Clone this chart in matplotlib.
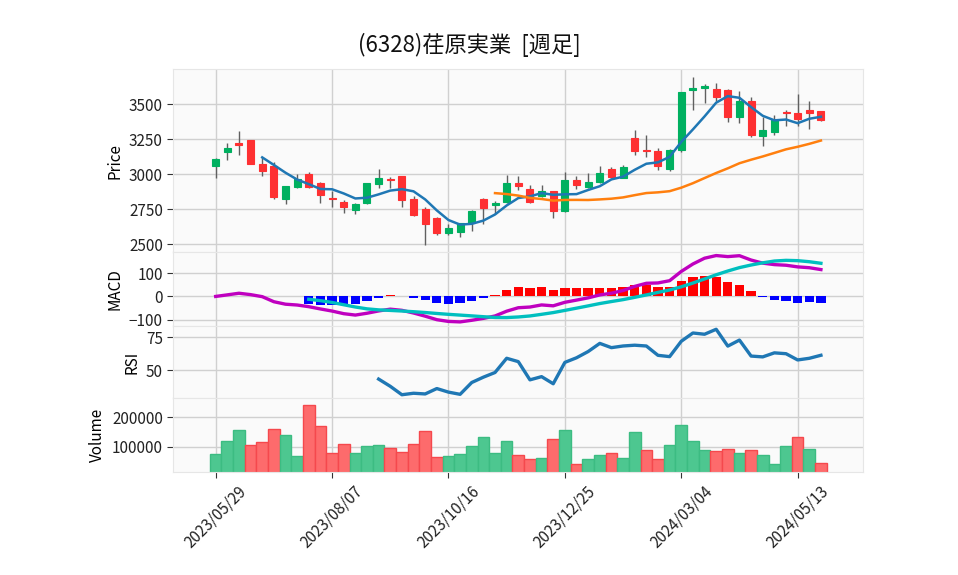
import matplotlib
matplotlib.use('Agg')
import matplotlib.pyplot as plt
import numpy as np
import pandas as pd

plt.rcParams['font.family'] = ['Noto Sans CJK JP', 'DejaVu Sans']

# ---------------- data (weekly) ----------------
start_date = '2023-05-29'
opens = [3058, 3162, 3220, 3242, 3075, 3061, 2822, 2908, 2999, 2934, 2830, 2805, 2744, 2793,
         2929, 2966, 2984, 2820, 2755, 2688, 2578, 2586, 2650, 2825, 2779, 2800, 2939, 2898,
         2843, 2877, 2736, 2956, 2908, 2944, 3041, 2975, 3261, 3172, 3163, 3037, 3170, 3603,
         3612, 3605, 3600, 3409, 3521, 3273, 3302, 3442, 3440, 3462, 3448]
highs = [3115, 3226, 3307, 3245, 3123, 3087, 2915, 3004, 3018, 2948, 2884, 2817, 2792, 2940,
         3039, 2980, 2991, 2848, 2765, 2692, 2645, 2652, 2745, 2830, 2812, 2996, 2984, 2922,
         2922, 2884, 3015, 2991, 3011, 3056, 3051, 3068, 3314, 3282, 3187, 3180, 3590, 3691,
         3643, 3653, 3605, 3595, 3548, 3409, 3426, 3459, 3576, 3524, 3452]
lows = [2975, 3104, 3140, 3070, 2986, 2822, 2786, 2905, 2900, 2793, 2764, 2722, 2715, 2790,
        2903, 2901, 2769, 2705, 2497, 2569, 2567, 2554, 2597, 2645, 2717, 2798, 2889, 2795,
        2838, 2689, 2734, 2896, 2905, 2940, 2973, 2972, 3140, 3123, 3027, 3020, 3158, 3457,
        3509, 3524, 3371, 3366, 3264, 3204, 3278, 3342, 3342, 3326, 3380]
closes = [3106, 3190, 3212, 3072, 3022, 2836, 2913, 2968, 2908, 2850, 2825, 2764, 2789, 2934,
          2970, 2960, 2815, 2712, 2645, 2578, 2617, 2650, 2741, 2760, 2796, 2939, 2915, 2800,
          2877, 2736, 2956, 2922, 2948, 3011, 2979, 3054, 3166, 3165, 3061, 3175, 3586, 3612,
          3629, 3552, 3409, 3526, 3280, 3319, 3390, 3438, 3395, 3438, 3390]
volumes = [75200, 119400, 156800, 105800, 116000, 160200, 139800, 68400, 240800, 170400,
           78600, 109200, 78600, 102400, 105800, 95600, 82000, 109200, 153400, 65000, 68400,
           75200, 102400, 133000, 78600, 119400, 71800, 58200, 61600, 126200, 156800, 41200,
           58200, 71800, 78600, 61600, 150000, 88800, 58200, 105800, 173800, 119400, 88800,
           85400, 92200, 78600, 88800, 71800, 41200, 102400, 133000, 92200, 44600]

title = '(6328)荏原実業  [週足]'
ma_periods = [5, 25]
tick_every = 10

# ---------------- derived series ----------------
dates = pd.date_range(start_date, periods=len(closes), freq='W-MON')
df = pd.DataFrame({'Open': opens, 'High': highs, 'Low': lows, 'Close': closes,
                   'Volume': volumes}, index=dates)
c = df['Close']
ma_short = c.rolling(ma_periods[0]).mean()
ma_long = c.rolling(ma_periods[1]).mean()
ema12 = c.ewm(span=12, adjust=False).mean()
ema26 = c.ewm(span=26, adjust=False).mean()
macd = ema12 - ema26
signal = macd.rolling(9).mean()
hist = macd - signal
d = c.diff()
up = d.clip(lower=0).rolling(14).mean()
dn = (-d.clip(upper=0)).rolling(14).mean()
rsi = 100 * up / (up + dn)

x = np.arange(len(df))

# ---------------- styling ----------------
UP = '#00b060'
DOWN = '#fe3032'
WICK = '#606060'
VUP = '#4dc790'
VDOWN = '#fd6b6c'
FACE = '#fafafa'
GRID = '#d0d0d0'
SPINE = '#e6e6e6'

W, H = 958, 575
fig = plt.figure(figsize=(W / 100, H / 100), dpi=100)
left = 173.3 / W
width = (863.3 - 173.3) / W

def box(top_px, bot_px):
    return [left, 1 - bot_px / H, width, (bot_px - top_px) / H]

ax_p = fig.add_axes(box(69.3, 252.3))
ax_m = fig.add_axes(box(252.3, 325.7), sharex=ax_p)
ax_r = fig.add_axes(box(325.7, 398.3), sharex=ax_p)
ax_v = fig.add_axes(box(398.3, 472.3), sharex=ax_p)
axes = [ax_p, ax_m, ax_r, ax_v]

xt = x[::tick_every]
for ax in axes:
    ax.set_facecolor(FACE)
    for s in ax.spines.values():
        s.set_color(SPINE)
    ax.grid(True, color=GRID, linewidth=1.0)
    ax.set_axisbelow(True)
    ax.tick_params(axis='y', labelsize=11, length=4, color='#333333', labelcolor='#222222')
    ax.set_xticks(xt)
    ax.set_xlim(-3.64, 55.64)
for ax in axes[:-1]:
    ax.tick_params(axis='x', length=0, labelbottom=False)

# candles
o = df['Open'].values; cl = df['Close'].values
hi = df['High'].values; lo = df['Low'].values
is_up = cl >= o
ax_p.vlines(x, lo, hi, color=WICK, linewidth=1.0, zorder=2)
body_bottom = np.minimum(o, cl)
body_h = np.maximum(np.abs(cl - o), 4)
ax_p.bar(x, body_h, bottom=body_bottom, width=0.6,
         color=np.where(is_up, UP, DOWN), edgecolor=np.where(is_up, UP, DOWN),
         linewidth=0.8, zorder=3)
ax_p.plot(x, ma_short.values, color='#1f77b4', linewidth=1.8, zorder=4)
ax_p.plot(x, ma_long.values, color='#ff7f0e', linewidth=1.8, zorder=4)
ax_p.set_ylim(2443, 3749)
ax_p.set_yticks([2500, 2750, 3000, 3250, 3500])
ax_p.set_ylabel('Price', fontsize=11, labelpad=4)

# MACD
hv = hist.values
ax_m.bar(x, hv, width=0.8, color=np.where(hv >= 0, '#ff0000', '#0000ff'), zorder=2)
ax_m.plot(x, macd.values, color='#bf00bf', linewidth=2.4, zorder=3)
ax_m.plot(x, signal.values, color='#00bfbf', linewidth=2.4, zorder=3)
ax_m.set_ylim(-125, 188.5)
ax_m.set_yticks([-100, 0, 100])
ax_m.set_ylabel('MACD', fontsize=11, labelpad=4)

# RSI
ax_r.plot(x, rsi.values, color='#1f77b4', linewidth=2.4)
ax_r.set_ylim(28.8, 83.8)
ax_r.set_yticks([50, 75])
ax_r.set_ylabel('RSI', fontsize=11, labelpad=4)

# Volume (colored by close vs previous close)
prev = np.r_[cl[0], cl[:-1]]
vup = cl >= prev
ax_v.bar(x, df['Volume'].values, width=1.0,
         color=np.where(vup, VUP, VDOWN),
         edgecolor=np.where(vup, '#3cbc82', '#f5484d'), linewidth=1.0, zorder=2)
ax_v.set_ylim(12360, 264880)
ax_v.set_yticks([100000, 200000])
ax_v.ticklabel_format(axis='y', style='plain', useOffset=False)
ax_v.set_ylabel('Volume', fontsize=11, labelpad=4)
ax_v.set_xticklabels([dates[i].strftime('%Y/%m/%d') for i in xt], rotation=45,
                     ha='center', fontsize=11, color='#222222')
ax_v.tick_params(axis='x', length=4, color='#333333')

fig.text(469 / W, 1 - 45 / H, title, ha='center', va='center', fontsize=16, color='#111111')

fig.savefig('out.png', dpi=100, facecolor='white')
